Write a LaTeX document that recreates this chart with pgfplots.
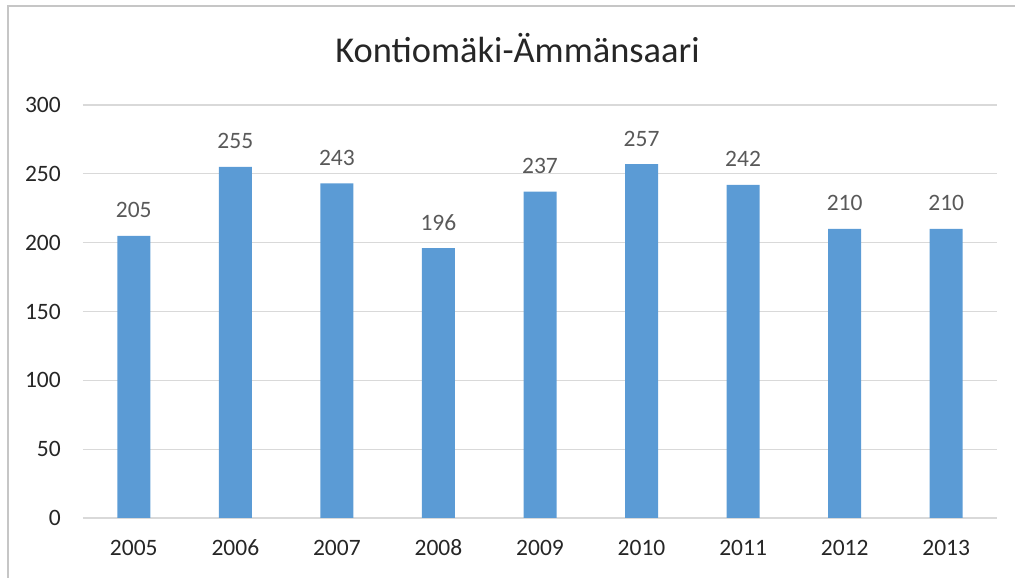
\documentclass[border=0pt]{standalone}
\usepackage{pgfplots}
\pgfplotsset{compat=1.18}
\usepackage{fontspec}
\setmainfont{Carlito}
\definecolor{barblue}{HTML}{5B9BD5}
\definecolor{gridgray}{HTML}{D9D9D9}
\definecolor{framegray}{HTML}{C6C6C6}
\definecolor{ticktext}{HTML}{262626}
\definecolor{labeltext}{HTML}{595959}
\begin{document}
\begin{tikzpicture}[x=1pt,y=1pt]
\clip (-83,-60) rectangle (932,518);
\draw[line width=2.5pt, framegray] (-75,-90) rectangle (980,512);
\node[anchor=base, inner sep=0pt, font=\fontsize{36.4}{40}\selectfont, text=ticktext] at (434.5,455) {Kontiomäki-Ämmänsaari};
\begin{axis}[
  at={(0,0)}, anchor=south west,
  scale only axis, width=914pt, height=413pt,
  xmin=-0.5, xmax=8.5, ymin=0, ymax=300,
  ytick={0,50,...,300},
  xtick={0,...,8},
  xticklabels={2005,2006,2007,2008,2009,2010,2011,2012,2013},
  major tick length=0pt,
  axis x line*=bottom, axis y line*=left,
  y axis line style={draw=none},
  x axis line style={draw=gridgray, line width=1.3pt},
  ymajorgrids, grid style={draw=gridgray, line width=1.3pt},
  /pgf/number format/assume math mode=true,
  yticklabel style={font=\fontsize{23.5}{25}\selectfont, text=ticktext, inner sep=0pt, anchor=east, xshift=-22pt},
  xticklabel style={font=\fontsize{23.5}{25}\selectfont, text=ticktext, inner sep=0pt, anchor=base, yshift=-38pt},
  clip=false,
]
\addplot[ybar, bar width=33pt, fill=barblue, draw=none,
  nodes near coords,
  every node near coord/.append style={font=\fontsize{23.5}{25}\selectfont, text=labeltext, inner sep=0pt, anchor=base, yshift=18pt}]
  coordinates {(0,205) (1,255) (2,243) (3,196) (4,237) (5,257) (6,242) (7,210) (8,210)};
\end{axis}
\end{tikzpicture}
\end{document}
